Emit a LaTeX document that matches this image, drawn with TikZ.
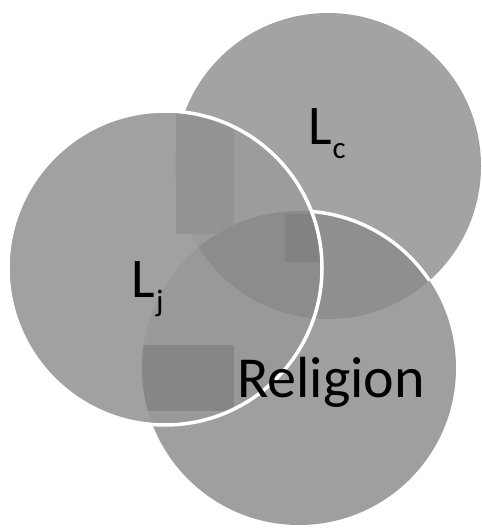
\documentclass[tikz,border=0pt]{standalone}
\usepackage{fontspec}
\setmainfont{Carlito}
\begin{document}
\begin{tikzpicture}[x=1pt,y=-1pt,
  lbl/.style={anchor=base west,inner sep=0pt,text=black,font=\fontsize{56}{56}\selectfont},
  sub/.style={anchor=base west,inner sep=0pt,text=black,font=\fontsize{31}{31}\selectfont},
  rim/.style={draw=white,line width=3.5pt}]
\useasboundingbox (0,0) rectangle (481,529);
\def\circC{(328,166) circle[radius=153]}
\def\circJ{(165,268) circle[radius=157]}
\def\circR{(299,368) circle[radius=157]}
% top-right circle
\fill[gray!72!white] \circC;
% bottom circle
\fill[gray!75!white] \circR;
\begin{scope}
  \clip \circC;
  \fill[gray!88!white] \circR;
  \draw[rim] \circR;
\end{scope}
% left circle
\fill[gray!74!white] \circJ;
\begin{scope}
  \clip \circJ;
  \fill[gray!78!white] \circC;
  \fill[gray!84!white] (176,110) rectangle (234,234);
  \fill[gray!80!white] \circR;
  \begin{scope}
    \clip \circR;
    \fill[gray!95!white] (140,345) rectangle (234,411);
    \clip \circC;
    \fill[gray!90!white] \circC;
    \fill[gray!98!white] (285,214) rectangle (330,262);
  \end{scope}
\end{scope}
\draw[rim] \circJ;
% labels
\node[lbl] (lc) at (308,145) {L};
\node[sub] (lcs) at (lc.base east) [xshift=0.5pt,yshift=-14pt] {c};
\node[lbl] (lj) at (131,297) {L};
\node[sub] (ljs) at (lj.base east) [xshift=1pt,yshift=-14pt] {j};
\node[lbl,font=\fontsize{58}{58}\selectfont] (rel) at (237,397) {Religion};
\end{tikzpicture}
\end{document}
